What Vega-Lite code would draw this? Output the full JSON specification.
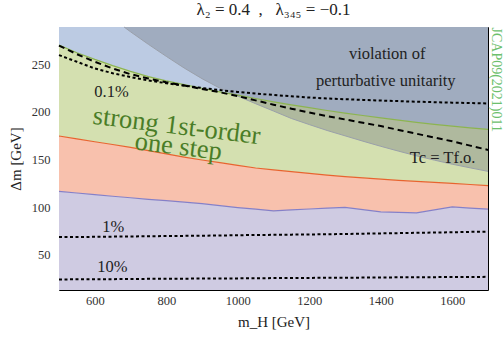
{
  "$schema": "https://vega.github.io/schema/vega-lite/v6.json",
  "width": 429,
  "height": 263,
  "autosize": "none",
  "padding": {"left": 59, "top": 27, "right": 16, "bottom": 50},
  "background": "white",
  "title": {"text": "λ₂ = 0.4\u00a0\u00a0,\u00a0\u00a0\u00a0λ₃₄₅ = −0.1", "font": "Liberation Serif", "fontSize": 17, "fontWeight": "normal", "color": "#222", "offset": 6},
  "datasets": {
    "c": [
      {"x": 500, "pb": 116.5, "ob": 174.6, "gb": 270, "dash": 269.5, "d01": 259.5, "d1": 68.5, "d10": 24.1},
      {"x": 550, "pb": 114.8, "ob": 171.6, "gb": 262, "dash": 260.5, "d01": 252.5, "d1": 68.6, "d10": 24.2},
      {"x": 600, "pb": 113.1, "ob": 168.6, "gb": 255, "dash": 252.5, "d01": 245.5, "d1": 68.8, "d10": 24.3},
      {"x": 650, "pb": 111.4, "ob": 165.7, "gb": 248.5, "dash": 245.5, "d01": 240.5, "d1": 69, "d10": 24.4},
      {"x": 700, "pb": 109.8, "ob": 162.6, "gb": 242.5, "dash": 239.5, "d01": 236.5, "d1": 69.2, "d10": 24.5},
      {"x": 750, "pb": 108.2, "ob": 159.3, "gb": 237, "dash": 235, "d01": 233, "d1": 69.4, "d10": 24.7},
      {"x": 800, "pb": 106.7, "ob": 155.8, "gb": 232.5, "dash": 231, "d01": 230, "d1": 69.6, "d10": 24.8},
      {"x": 850, "pb": 105.2, "ob": 152.4, "gb": 228.5, "dash": 227.5, "d01": 227.5, "d1": 69.8, "d10": 24.9},
      {"x": 900, "pb": 103.7, "ob": 149.4, "gb": 224.7, "dash": 224, "d01": 225, "d1": 70, "d10": 25},
      {"x": 950, "pb": 101.6, "ob": 146.6, "gb": 221, "dash": 220.5, "d01": 222.8, "d1": 70.2, "d10": 25.1},
      {"x": 1000, "pb": 99.5, "ob": 143.8, "gb": 217.5, "dash": 216.5, "d01": 220.8, "d1": 70.5, "d10": 25.2},
      {"x": 1050, "pb": 97.8, "ob": 141, "gb": 214, "dash": 212, "d01": 219.2, "d1": 70.7, "d10": 25.3},
      {"x": 1100, "pb": 96, "ob": 139, "gb": 210.5, "dash": 207.5, "d01": 217.7, "d1": 70.9, "d10": 25.5},
      {"x": 1150, "pb": 97, "ob": 137.3, "gb": 207.3, "dash": 203.3, "d01": 216.3, "d1": 71.1, "d10": 25.6},
      {"x": 1200, "pb": 98, "ob": 135.4, "gb": 204.3, "dash": 199.3, "d01": 215, "d1": 71.3, "d10": 25.7},
      {"x": 1250, "pb": 99, "ob": 133.6, "gb": 201.4, "dash": 195.5, "d01": 214, "d1": 71.5, "d10": 25.8},
      {"x": 1300, "pb": 99.8, "ob": 132, "gb": 198.7, "dash": 192, "d01": 213.2, "d1": 71.8, "d10": 25.9},
      {"x": 1350, "pb": 97.4, "ob": 130.6, "gb": 196.1, "dash": 188.5, "d01": 212.5, "d1": 72.1, "d10": 26},
      {"x": 1400, "pb": 95, "ob": 129.3, "gb": 193.6, "dash": 185, "d01": 211.8, "d1": 72.4, "d10": 26.1},
      {"x": 1450, "pb": 94.5, "ob": 128.1, "gb": 191.3, "dash": 181, "d01": 211.2, "d1": 72.7, "d10": 26.3},
      {"x": 1500, "pb": 94, "ob": 127, "gb": 189, "dash": 177, "d01": 210.6, "d1": 73, "d10": 26.4},
      {"x": 1550, "pb": 97, "ob": 125.9, "gb": 186.9, "dash": 173, "d01": 210.1, "d1": 73.3, "d10": 26.5},
      {"x": 1600, "pb": 100.2, "ob": 124.8, "gb": 185, "dash": 169, "d01": 209.6, "d1": 73.6, "d10": 26.6},
      {"x": 1650, "pb": 99, "ob": 123.7, "gb": 183.2, "dash": 164.5, "d01": 209.2, "d1": 74, "d10": 26.7},
      {"x": 1700, "pb": 97.8, "ob": 122.6, "gb": 181.6, "dash": 160, "d01": 208.8, "d1": 74.3, "d10": 26.8}
    ],
    "g": [
      {"x": 682, "gy": 289},
      {"x": 700, "gy": 284},
      {"x": 750, "gy": 270.8},
      {"x": 800, "gy": 258.2},
      {"x": 850, "gy": 246},
      {"x": 900, "gy": 234.8},
      {"x": 950, "gy": 224.8},
      {"x": 1000, "gy": 216.5},
      {"x": 1050, "gy": 208.5},
      {"x": 1100, "gy": 200.8},
      {"x": 1150, "gy": 193},
      {"x": 1200, "gy": 186.6},
      {"x": 1250, "gy": 180.4},
      {"x": 1300, "gy": 174.8},
      {"x": 1350, "gy": 169.2},
      {"x": 1400, "gy": 163.8},
      {"x": 1450, "gy": 158.7},
      {"x": 1500, "gy": 153.8},
      {"x": 1550, "gy": 149.3},
      {"x": 1600, "gy": 145},
      {"x": 1650, "gy": 141.2},
      {"x": 1700, "gy": 137.5}
    ],
    "lab": [
      {"x": 647, "y": 221, "t": "0.1%"},
      {"x": 652, "y": 79.4, "t": "1%"},
      {"x": 649, "y": 37.5, "t": "10%"},
      {"x": 1418, "y": 260.5, "t": "violation of"},
      {"x": 1414, "y": 232.2, "t": "perturbative unitarity"},
      {"x": 1573, "y": 151.6, "t": "Tc = Tf.o."}
    ],
    "gt": [
      {"x": 829, "y": 185.1, "t": "strong 1st-order"},
      {"x": 834, "y": 163.4, "t": "one step"}
    ]
  },
  "resolve": {"axis": {"x": "independent", "y": "independent"}},
  "layer": [
    {
      "data": {"name": "c"},
      "mark": {"type": "area", "color": "#cfcbe2", "opacity": 1},
      "encoding": {
        "x": {"field": "x", "type": "quantitative", "scale": {"domain": [500, 1700], "nice": false, "zero": false},
              "axis": {"orient": "bottom", "values": [600, 800, 1000, 1200, 1400, 1600], "format": "d", "tickSize": -5, "labelPadding": 9, "title": "m_H [GeV]", "titlePadding": 8}},
        "y": {"field": "pb", "type": "quantitative", "scale": {"domain": [13, 289], "nice": false, "zero": false},
              "axis": {"orient": "left", "values": [50, 100, 150, 200, 250], "format": "d", "tickSize": -5, "labelPadding": 14, "title": "Δm [GeV]", "titlePadding": 8}},
        "y2": {"datum": 13}
      }
    },
    {
      "data": {"name": "c"},
      "mark": {"type": "area", "color": "#f8c1ad", "opacity": 1},
      "encoding": {
        "x": {"field": "x", "type": "quantitative", "scale": {"domain": [500, 1700], "nice": false, "zero": false},
              "axis": {"orient": "bottom", "values": [550, 650, 700, 750, 850, 900, 950, 1050, 1100, 1150, 1250, 1300, 1350, 1450, 1500, 1550, 1650], "tickSize": -3, "labels": false, "title": null}},
        "y": {"field": "pb", "type": "quantitative", "scale": {"domain": [13, 289], "nice": false, "zero": false},
              "axis": {"orient": "left", "values": [20, 30, 40, 60, 70, 80, 90, 110, 120, 130, 140, 160, 170, 180, 190, 210, 220, 230, 240, 260, 270, 280], "tickSize": -3, "labels": false, "title": null}},
        "y2": {"field": "ob"}
      }
    },
    {
      "data": {"name": "c"},
      "mark": {"type": "area", "color": "#d4e0b0", "opacity": 1},
      "encoding": {
        "x": {"field": "x", "type": "quantitative", "scale": {"domain": [500, 1700], "nice": false, "zero": false},
              "axis": {"orient": "top", "values": [600, 800, 1000, 1200, 1400, 1600], "tickSize": -5, "labels": false, "title": null}},
        "y": {"field": "ob", "type": "quantitative", "scale": {"domain": [13, 289], "nice": false, "zero": false},
              "axis": {"orient": "right", "values": [50, 100, 150, 200, 250], "tickSize": -5, "labels": false, "title": "JCAP09(2021)011", "titleAngle": 90, "titleAnchor": "end", "titleAlign": "left", "titleColor": "#6cc06c", "titleFontSize": 14, "titlePadding": 0}},
        "y2": {"field": "gb"}
      }
    },
    {
      "data": {"name": "c"},
      "mark": {"type": "area", "color": "#bccbe3", "opacity": 1},
      "encoding": {
        "x": {"field": "x", "type": "quantitative", "scale": {"domain": [500, 1700], "nice": false, "zero": false},
              "axis": {"orient": "top", "values": [550, 650, 700, 750, 850, 900, 950, 1050, 1100, 1150, 1250, 1300, 1350, 1450, 1500, 1550, 1650], "tickSize": -3, "labels": false, "title": null}},
        "y": {"field": "gb", "type": "quantitative", "scale": {"domain": [13, 289], "nice": false, "zero": false},
              "axis": {"orient": "right", "values": [20, 30, 40, 60, 70, 80, 90, 110, 120, 130, 140, 160, 170, 180, 190, 210, 220, 230, 240, 260, 270, 280], "tickSize": -3, "labels": false, "title": null}},
        "y2": {"datum": 289}
      }
    },
    {
      "data": {"name": "g"},
      "mark": {"type": "area", "color": "#6e7480", "opacity": 0.36},
      "encoding": {
        "x": {"field": "x", "type": "quantitative", "axis": null},
        "y": {"field": "gy", "type": "quantitative", "axis": null},
        "y2": {"datum": 289}
      }
    },
    {
      "data": {"name": "g"},
      "mark": {"type": "line", "color": "#9aa0aa", "strokeWidth": 1},
      "encoding": {
        "x": {"field": "x", "type": "quantitative", "axis": null},
        "y": {"field": "gy", "type": "quantitative", "axis": null}
      }
    },
    {
      "data": {"name": "c"},
      "mark": {"type": "line", "color": "#8580c8", "strokeWidth": 1.2},
      "encoding": {
        "x": {"field": "x", "type": "quantitative", "axis": null},
        "y": {"field": "pb", "type": "quantitative", "axis": null}
      }
    },
    {
      "data": {"name": "c"},
      "mark": {"type": "line", "color": "#e8642f", "strokeWidth": 1.2},
      "encoding": {
        "x": {"field": "x", "type": "quantitative", "axis": null},
        "y": {"field": "ob", "type": "quantitative", "axis": null}
      }
    },
    {
      "data": {"name": "c"},
      "mark": {"type": "line", "color": "#8cb450", "strokeWidth": 1.2},
      "encoding": {
        "x": {"field": "x", "type": "quantitative", "axis": null},
        "y": {"field": "gb", "type": "quantitative", "axis": null}
      }
    },
    {
      "data": {"name": "c"},
      "mark": {"type": "line", "color": "#000", "strokeWidth": 2, "strokeDash": [6, 4]},
      "encoding": {
        "x": {"field": "x", "type": "quantitative", "axis": null},
        "y": {"field": "dash", "type": "quantitative", "axis": null}
      }
    },
    {
      "data": {"name": "c"},
      "mark": {"type": "line", "color": "#000", "strokeWidth": 2, "strokeDash": [3, 2.5]},
      "encoding": {
        "x": {"field": "x", "type": "quantitative", "axis": null},
        "y": {"field": "d01", "type": "quantitative", "axis": null}
      }
    },
    {
      "data": {"name": "c"},
      "mark": {"type": "line", "color": "#000", "strokeWidth": 2, "strokeDash": [3, 2.5]},
      "encoding": {
        "x": {"field": "x", "type": "quantitative", "axis": null},
        "y": {"field": "d1", "type": "quantitative", "axis": null}
      }
    },
    {
      "data": {"name": "c"},
      "mark": {"type": "line", "color": "#000", "strokeWidth": 2, "strokeDash": [3, 2.5]},
      "encoding": {
        "x": {"field": "x", "type": "quantitative", "axis": null},
        "y": {"field": "d10", "type": "quantitative", "axis": null}
      }
    },
    {
      "data": {"name": "lab"},
      "mark": {"type": "text", "font": "Liberation Serif", "fontSize": 16.5, "color": "#222", "align": "center", "baseline": "middle"},
      "encoding": {
        "x": {"field": "x", "type": "quantitative", "axis": null},
        "y": {"field": "y", "type": "quantitative", "axis": null},
        "text": {"field": "t"}
      }
    },
    {
      "data": {"name": "gt"},
      "mark": {"type": "text", "font": "Liberation Serif", "fontSize": 26.5, "color": "#4a7d27", "align": "center", "baseline": "middle", "angle": 7},
      "encoding": {
        "x": {"field": "x", "type": "quantitative", "axis": null},
        "y": {"field": "y", "type": "quantitative", "axis": null},
        "text": {"field": "t"}
      }
    }
  ],
  "config": {
    "view": {"stroke": "#000", "strokeWidth": 1},
    "axis": {"grid": false, "domain": false, "zindex": 1, "tickColor": "#000", "tickWidth": 1, "labelFont": "Liberation Serif", "labelFontSize": 12.5, "labelColor": "#333", "titleFont": "Liberation Serif", "titleFontSize": 15, "titleFontWeight": "normal", "titleColor": "#222"}
  }
}
